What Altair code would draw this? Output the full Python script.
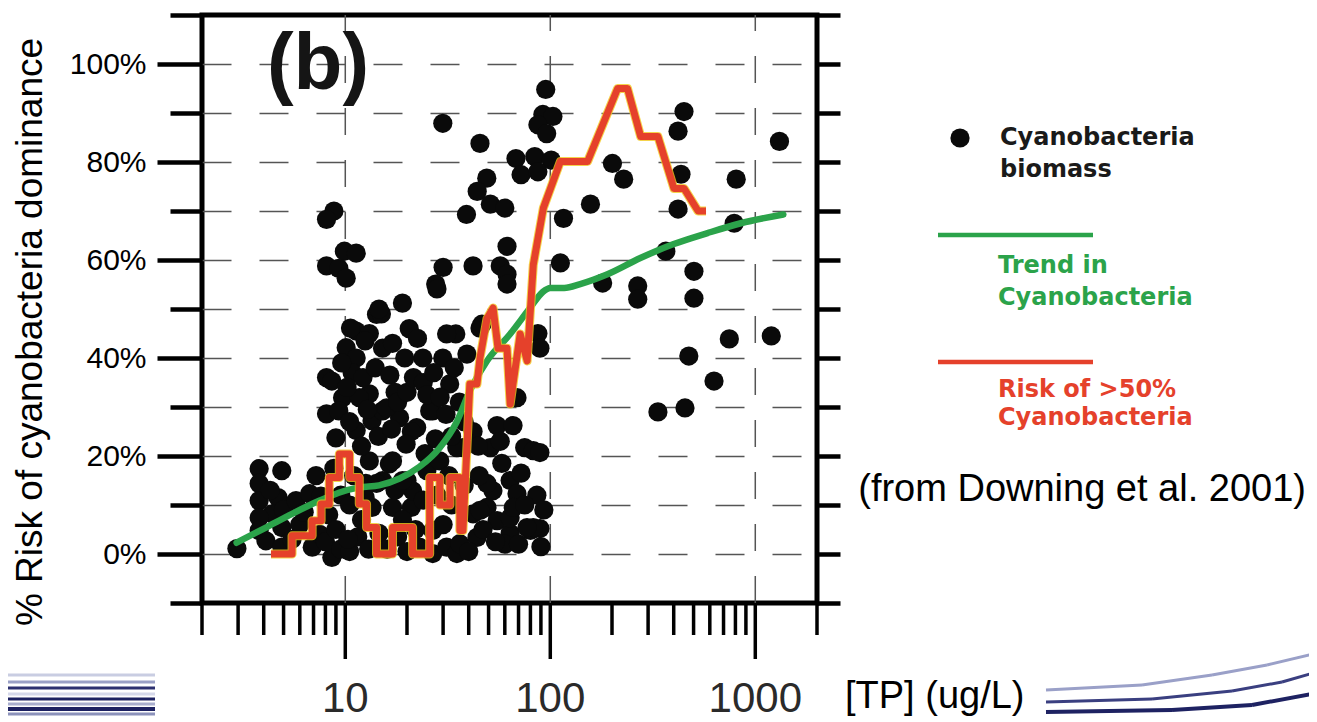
import altair as alt
import pandas as pd

# ---------------- data ----------------
# scatter: total phosphorus (ug/L) and % cyanobacteria
pt_tp = [
    95, 92, 103, 87, 96, 68, 84, 101, 72, 87, 29.9, 45.4, 49, 44, 51, 60, 39,
    8.8, 8.1, 9.9, 11.3, 8.1, 9.3, 10.1, 61.5, 30, 42, 57, 61.5, 61.5, 27.6,
    201, 228, 157, 116, 112, 180, 267, 267, 366, 502, 502, 449, 420, 434, 420,
    807, 789, 1312, 747, 1197, 474, 629, 335, 454,
    11.3, 14.2, 10.1, 11.3, 8.1, 8.6, 13.1, 9.7, 8.1, 9.3, 13.5, 9.0, 11.3,
    19, 15, 10.6, 14.6, 46.4, 34.6, 87, 31.2, 45.4, 28,
    15.2, 23.9, 29.9, 39.2, 32.3, 13.1, 15.2, 26.7, 22.3, 25.8, 18.4, 11.7, 15.9,
    55, 65.8, 75, 82.6, 68.8, 89, 89, 89, 37.5, 21, 19.8, 16.4, 51, 80,
    2.96, 3.8, 4.9, 3.8, 4.7, 3.8, 4.4, 3.8, 3.8, 4.1, 4.9, 4.9, 5.0, 4.3,
    5.75, 6.7, 7.6, 6.0, 6.9, 7.5, 8.6, 8.0, 5.5, 6.3, 8.3, 9.0, 9.5, 9.5, 7.2, 8.8,
    10.5, 11.5, 12.0, 10.5, 13.0, 14.6, 13.5, 13.1, 12.6, 15.2, 11.0, 10.3, 12.5, 14.2,
    17, 17, 21, 21.3, 25, 28.9, 16, 18, 20, 22, 23, 19, 24, 17.5, 20, 19,
    26.7, 31.2, 35, 26.7, 36.2, 43.9, 42, 30, 33, 28, 38, 32, 35,
    49.1, 55, 63.7, 82.6, 52.5, 63.7, 68.8, 49.1, 45.4, 63.7, 77, 47, 60, 70, 40,
    10.8, 12.2, 14, 16.5, 17.5, 12, 14.5, 16.8, 18, 20, 21.5, 19.5, 17, 12.5,
    20.5, 22.5, 9.6, 10.2, 10.5, 12.8,
    24, 27, 25, 29, 34, 36, 38, 31, 42, 44.5, 27.5, 24.5, 33,
    58, 72, 86, 93, 66, 54, 75, 90, 45, 57,
]
pt_risk = [
    94.8, 89.7, 89.3, 87.6, 85.8, 80.7, 81.1, 80.4, 77.4, 78.0, 87.9, 83.8, 76.7, 74.0, 71.4, 70.6, 69.3,
    70.0, 68.3, 61.8, 61.4, 58.8, 58.3, 56.3, 62.8, 58.5, 58.8, 58.8, 57.1, 55.1, 55.1,
    79.7, 76.5, 71.4, 68.5, 59.4, 55.3, 54.7, 52.0, 61.8, 57.7, 52.2, 90.3, 86.3, 77.5, 70.4,
    76.5, 67.5, 84.2, 43.9, 44.5, 40.4, 35.3, 29.0, 29.8,
    45.5, 48.9, 42.1, 40.0, 36.0, 35.3, 32.7, 31.9, 28.6, 29.2, 27.2, 23.7, 25.2,
    51.2, 49.0, 46.1, 50.0, 46.9, 44.9, 45.0, 44.9, 46.1, 54.1,
    42.0, 40.0, 40.0, 40.8, 34.7, 45.0, 29.2, 29.2, 25.8, 29.2, 27.8, 31.9, 29.8,
    26.2, 26.2, 21.7, 21.1, 31.9, 42.0, 20.7, 5.2, 21.7, 25.0, 22.4, 18.4, 21.7, 4.8,
    1.1, 17.4, 17.0, 14.4, 11.5, 10.9, 8.2, 7.4, 4.8, 2.7, 1.4, 5.4, 9.0, 13.0,
    10.9, 12.3, 11.8, 6.0, 1.4, 4.0, -0.7, 2.5, 3.0, 8.5, 8.0, 5.0, 1.0, 12.0, 16.0, 17.5,
    0.5, 3.5, 7.0, 10.0, 1.0, 4.2, 9.5, 19.0, 14.4, 15.0, 16.0, 3.0, 11.5, 14.4,
    19.0, 9.5, 9.5, 12.9, 17.0, 19.0, 1.0, 3.5, 0.5, 5.0, 1.4, 7.0, 11.0, 13.0, 15.0, 15.0,
    0.1, 1.4, 0.1, 4.8, 2.1, 3.4, 8.2, 6.0, 10.0, 12.0, 14.0, 16.0, 21.7,
    9.5, 6.8, 4.2, 5.4, 12.9, 15.0, 12.3, 14.4, 8.9, 7.4, 5.4, 5.0, 2.0, 2.0, 0.5,
    37.0, 36.0, 38.0, 36.5, 33.0, 22.0, 24.0, 25.5, 31.0, 33.0, 36.0, 40.0, 43.0, 43.5,
    46.0, 44.0, 39.0, 34.0, 27.0, 29.5,
    35.0, 37.0, 32.5, 32.0, 38.0, 31.0, 27.0, 28.5, 25.0, 22.0, 23.5, 20.5, 24.0,
    18.5, 16.5, 12.0, 9.0, 9.5, 2.5, 10.0, 1.5, 16.0, 23.0,
]

# green trend line
trend_tp = [2.95, 4.1, 5.5, 7.5, 9.3, 11.7, 14.6, 18.4, 23, 28.9, 35, 40.5, 49.1,
            63.7, 79.6, 92, 100, 117, 140, 190, 275, 397, 585, 850, 1370]
trend_val = [2.3, 5.4, 8.2, 10.9, 12.5, 13.6, 14.0, 15.4, 17.8, 21.7, 27.0, 33.3, 39.4,
             44.9, 50.2, 53.5, 54.3, 54.3, 55.1, 57.1, 60.4, 63.2, 65.5, 67.5, 69.3]

# red "risk of >50%" line (step-like polyline)
risk_tp = [4.34, 5.5, 5.5, 6.89, 6.89, 7.62, 7.62, 8.35, 8.35, 9.35, 9.35, 10.5, 10.5,
           11.7, 11.7, 12.7, 12.7, 14.2, 14.2, 17.0, 17.0, 21.3, 21.3, 25.8, 25.8,
           28.9, 28.9, 32.4, 32.4, 36.2, 36.2, 37.5, 39.2, 40.5, 43.9, 45.4, 49.1,
           52.6, 55.6, 61.5, 63.7, 71.3, 77.1, 82.6, 92.5, 112, 152, 213, 238, 276,
           335, 401, 449, 526, 575]
risk_val = [0, 0, 3.7, 3.7, 6.8, 6.8, 10.2, 10.2, 15.6, 15.6, 20.4, 20.4, 15.6,
            15.6, 10.2, 10.2, 5.4, 5.4, 0, 0, 5.4, 5.4, 0, 0, 15.6,
            15.6, 10.0, 10.0, 15.6, 15.6, 4.8, 4.8, 21.7, 34.7, 34.7, 40.0, 48.0,
            50.2, 42.0, 42.0, 30.6, 44.9, 39.4, 59.0, 70.6, 80.1, 80.1, 95.0, 95.0, 85.2,
            85.2, 74.6, 74.6, 70.0, 70.0]

# axis ticks and labels
x_ticks = [2, 3, 4, 5, 6, 7, 8, 9, 10, 20, 30, 40, 50, 60, 70, 80, 90,
           100, 200, 300, 400, 500, 600, 700, 800, 900, 1000, 2000]
x_labels = [10, 100, 1000]
x_label_text = ["10", "100", "1000"]
y_ticks = [-10, 0, 10, 20, 30, 40, 50, 60, 70, 80, 90, 100, 110]

pts = pd.DataFrame({"tp": pt_tp, "risk": pt_risk})
trend = pd.DataFrame({"tp": trend_tp, "risk": trend_val, "i": list(range(len(trend_tp)))})
riskl = pd.DataFrame({"tp": risk_tp, "risk": risk_val, "i": list(range(len(risk_tp)))})
minor_df = pd.DataFrame({"v": [t for t in x_ticks if t not in x_labels]})
major_df = pd.DataFrame({"v": x_labels, "lab": x_label_text})

RED = "#e5412b"
GREEN = "#2ba34a"

xscale = alt.Scale(type="log", domain=[2, 2000], nice=False)
yscale = alt.Scale(domain=[-10, 110], nice=False, zero=False)
X = dict(scale=xscale, axis=None)

LAB_Y = "datum.value >= 0 && datum.value <= 100 && datum.value % 20 == 0"

y_axis = alt.Axis(
    values=y_ticks, title=None, domain=False, orient="left",
    labelExpr=f"({LAB_Y}) ? datum.value + '%' : ''",
    labelOverlap=False, labelBound=False, labelFlush=False,
    labelFont="Liberation Sans, Arial", labelFontSize=30, labelColor="black",
    labelPadding=11,
    tickColor="black", tickWidth=4.5,
    tickSize={"condition": {"test": LAB_Y, "value": 45}, "value": 32},
    grid=True, gridColor="#555555", gridWidth=1.5, gridDash=[29, 28],
    gridOpacity={"condition": {"test": "datum.value > -10 && datum.value < 110", "value": 1}, "value": 0},
)
y_axis_right = alt.Axis(
    values=y_ticks, title=None, domain=False, orient="right", labels=False,
    grid=False, tickColor="black", tickWidth=4.5, tickSize=23,
)

# x "axis" drawn through the x scale: dashed grid, ticks and labels
x_grid = alt.Chart(major_df).mark_rule(color="#555555", strokeWidth=1.5,
                                       strokeDash=[27, 25]).encode(
    x=alt.X("v:Q", **X), y=alt.value(588), y2=alt.value(0))
x_minor = alt.Chart(minor_df).mark_rule(color="black", strokeWidth=3.5).encode(
    x=alt.X("v:Q", **X), y=alt.value(588), y2=alt.value(620))
x_major = alt.Chart(major_df).mark_rule(color="black", strokeWidth=3.5).encode(
    x=alt.X("v:Q", **X), y=alt.value(588), y2=alt.value(644))
x_lab = alt.Chart(major_df).mark_text(fontSize=42, font="Liberation Sans, Arial",
                                      color="#2a2a2a", baseline="middle").encode(
    x=alt.X("v:Q", **X), y=alt.value(684), text="lab:N")

points = alt.Chart(pts).mark_circle(size=370, color="#0a0a0a", opacity=1).encode(
    x=alt.X("tp:Q", **X),
    y=alt.Y("risk:Q", scale=yscale, axis=y_axis),
)
right_axis_layer = alt.Chart(pts).mark_point(opacity=0).encode(
    x=alt.X("tp:Q", **X),
    y=alt.Y("risk:Q", scale=yscale, axis=y_axis_right),
)
trend_line = alt.Chart(trend).mark_line(color=GREEN, strokeWidth=6.5, strokeCap="round",
                                        strokeJoin="round", interpolate="monotone").encode(
    x=alt.X("tp:Q", **X),
    y=alt.Y("risk:Q", scale=yscale, axis=None),
    order="i:Q",
)
risk_edge = alt.Chart(riskl).mark_line(color="#f2c81e", strokeWidth=9, strokeJoin="round",
                                       opacity=0.8).encode(
    x=alt.X("tp:Q", **X),
    y=alt.Y("risk:Q", scale=yscale, axis=None),
    order="i:Q",
)
risk_line = alt.Chart(riskl).mark_line(color=RED, strokeWidth=7, strokeJoin="round").encode(
    x=alt.X("tp:Q", **X),
    y=alt.Y("risk:Q", scale=yscale, axis=None),
    order="i:Q",
)

one = pd.DataFrame({"t": [""]})
LEG_FONT = "DejaVu Sans, Liberation Sans"


def txt(s, x, y, size, color="black", weight="normal", align="left",
        baseline="alphabetic", font="Liberation Sans, Arial", angle=0):
    kw = dict(fontSize=size, color=color, fontWeight=weight, align=align,
              baseline=baseline, font=font)
    if angle:
        kw["angle"] = angle
    return alt.Chart(pd.DataFrame({"t": [s]})).mark_text(**kw).encode(
        x=alt.value(x), y=alt.value(y), text="t:N")


texts = [
    txt("% Risk of cyanobacteria dominance", -171, 317, 37, angle=270,
        align="center", baseline="middle"),
    txt("(b)", 116, 74, 80, color="#151515", weight="bold", align="center"),
    txt("[TP] (ug/L)", 643, 682, 38, align="left", baseline="middle"),
    txt("Cyanobacteria", 798, 130, 24, color="#1a1a1a", weight="bold", font=LEG_FONT),
    txt("biomass", 798, 162, 24, color="#1a1a1a", weight="bold", font=LEG_FONT),
    txt("Trend in", 796, 258, 24, color=GREEN, weight="bold", font=LEG_FONT),
    txt("Cyanobacteria", 796, 290, 24, color=GREEN, weight="bold", font=LEG_FONT),
    txt("Risk of >50%", 796, 382, 24, color=RED, weight="bold", font=LEG_FONT),
    txt("Cyanobacteria", 796, 410, 24, color=RED, weight="bold", font=LEG_FONT),
    txt("(from Downing et al. 2001)", 1104, 475, 38, align="right", baseline="middle"),
]

legend_dot = alt.Chart(one).mark_circle(size=370, color="#0a0a0a", opacity=1).encode(
    x=alt.value(758), y=alt.value(123))
legend_green = alt.Chart(one).mark_rule(color=GREEN, strokeWidth=4.5).encode(
    x=alt.value(736), x2=alt.value(891), y=alt.value(220))
legend_red = alt.Chart(one).mark_rule(color=RED, strokeWidth=4.5).encode(
    x=alt.value(736), x2=alt.value(891), y=alt.value(347))

# slide template decoration (bottom-left stripes, bottom-right swooshes)
deco = []
for yy, col, w in [(660, "#c9cde2", 3), (667, "#9aa0c6", 3), (673, "#2c3070", 3),
                   (679, "#d5d8ea", 3), (684, "#1e2262", 3), (689, "#a9aece", 3),
                   (694, "#1e2262", 4), (699, "#8c92bb", 3)]:
    deco.append(alt.Chart(one).mark_rule(color=col, strokeWidth=w).encode(
        x=alt.value(-210), x2=alt.value(-47), y=alt.value(yy)))
for segs, col, w in [
    ([(844, 675), (940, 670), (1010, 660), (1065, 650), (1115, 638)], "#9aa0c8", 3),
    ([(844, 687), (950, 684), (1030, 676), (1080, 667), (1115, 657)], "#3a3f80", 3),
    ([(844, 697), (970, 695), (1050, 690), (1115, 678)], "#1e2262", 4),
]:
    for (x1, y1), (x2, y2) in zip(segs[:-1], segs[1:]):
        deco.append(alt.Chart(one).mark_rule(color=col, strokeWidth=w).encode(
            x=alt.value(x1), x2=alt.value(x2), y=alt.value(y1), y2=alt.value(y2)))

chart = alt.layer(
    x_grid, points, right_axis_layer, trend_line, risk_edge, risk_line,
    x_minor, x_major, x_lab,
    legend_dot, legend_green, legend_red, *texts, *deco,
).resolve_axis(y="independent").properties(
    width=615, height=588,
    autosize=alt.AutoSizeParams(type="none"),
    padding={"left": 194, "top": 7, "right": 492, "bottom": 119},
    background="white",
).configure_view(stroke="black", strokeWidth=5)

chart.save("out.html", embed_options={"renderer": "svg", "actions": False})
